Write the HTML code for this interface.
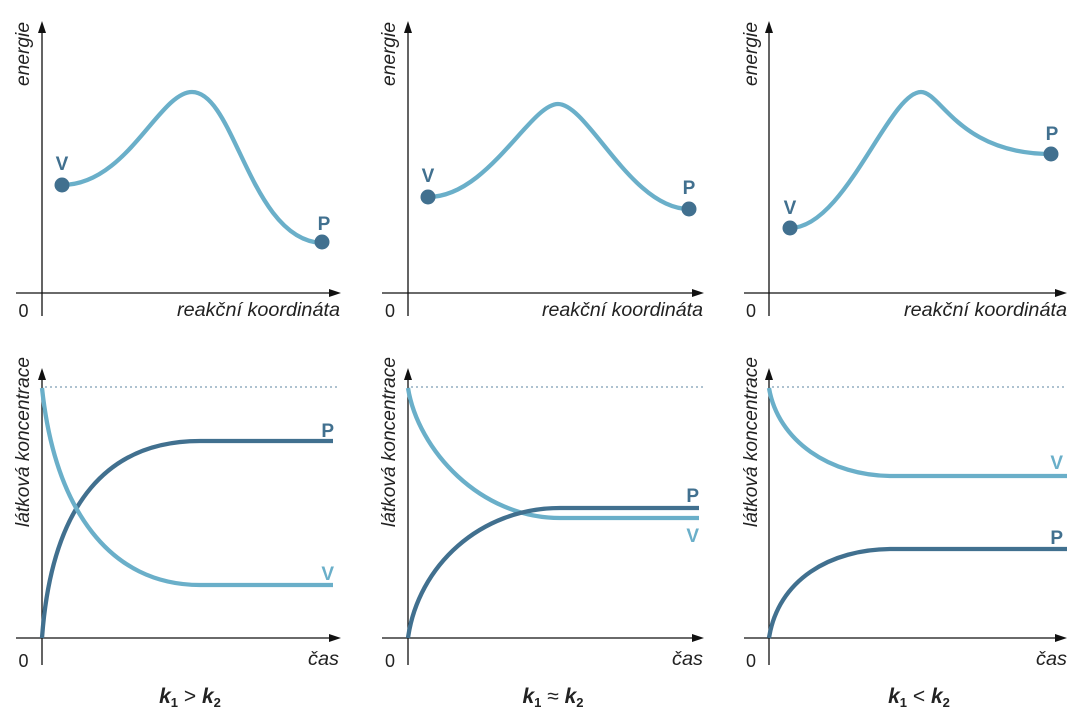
<!DOCTYPE html>
<html><head><meta charset="utf-8"><style>
html,body{margin:0;padding:0;background:#fff;}
svg{display:block;}
text{font-family:"Liberation Sans",sans-serif;fill:#222;}
.it{font-style:italic;font-size:19px;}
.lab{font-weight:bold;font-size:19px;}
.ax{stroke:#111;stroke-width:1.3;fill:none;}
.ah{fill:#111;}
.lb{stroke:#6aafc9;stroke-width:4.3;fill:none;stroke-linecap:round;}
.db{stroke:#41708f;stroke-width:4.3;fill:none;stroke-linecap:butt;}
.lbb{stroke:#6aafc9;stroke-width:4.3;fill:none;stroke-linecap:butt;}
.dot{stroke:#7d9db3;stroke-width:1.2;stroke-dasharray:2 3;fill:none;}
.k{font-size:21px;font-weight:bold;font-style:italic;fill:#222;}
</style></head><body>
<svg width="1079" height="718" viewBox="0 0 1079 718" xmlns="http://www.w3.org/2000/svg">

<!-- ========== PANEL 1 TOP ========== -->
<line class="ax" x1="42" y1="30" x2="42" y2="316"/>
<polygon class="ah" points="42,21 38,33 46,33"/>
<line class="ax" x1="16" y1="293" x2="332" y2="293"/>
<polygon class="ah" points="341,293 329,289 329,297"/>
<text class="it" transform="translate(29,86) rotate(-90)" textLength="64" lengthAdjust="spacingAndGlyphs">energie</text>
<text x="23.5" y="317" font-size="18" text-anchor="middle">0</text>
<text class="it" x="340" y="316" text-anchor="end" textLength="163" lengthAdjust="spacingAndGlyphs">reakční koordináta</text>
<path class="lb" d="M62,185 C127,185 159,92 192,92 C235,92 250,240 322,243"/>
<circle cx="62" cy="185" r="7.5" fill="#41708f"/>
<circle cx="322" cy="242" r="7.5" fill="#41708f"/>
<text class="lab" x="62" y="170" text-anchor="middle" style="fill:#41708f">V</text>
<text class="lab" x="324" y="230" text-anchor="middle" style="fill:#41708f">P</text>

<!-- ========== PANEL 2 TOP ========== -->
<line class="ax" x1="408" y1="30" x2="408" y2="316"/>
<polygon class="ah" points="408,21 404,33 412,33"/>
<line class="ax" x1="382" y1="293" x2="695" y2="293"/>
<polygon class="ah" points="704,293 692,289 692,297"/>
<text class="it" transform="translate(395,86) rotate(-90)" textLength="64" lengthAdjust="spacingAndGlyphs">energie</text>
<text x="390" y="317" font-size="18" text-anchor="middle">0</text>
<text class="it" x="703" y="316" text-anchor="end" textLength="161" lengthAdjust="spacingAndGlyphs">reakční koordináta</text>
<path class="lb" d="M428,197 C488,197 530,104 558,104 C588,104 631,209 689,209"/>
<circle cx="428" cy="197" r="7.5" fill="#41708f"/>
<circle cx="689" cy="209" r="7.5" fill="#41708f"/>
<text class="lab" x="428" y="182" text-anchor="middle" style="fill:#41708f">V</text>
<text class="lab" x="689" y="194" text-anchor="middle" style="fill:#41708f">P</text>

<!-- ========== PANEL 3 TOP ========== -->
<line class="ax" x1="769" y1="30" x2="769" y2="316"/>
<polygon class="ah" points="769,21 765,33 773,33"/>
<line class="ax" x1="744" y1="293" x2="1058" y2="293"/>
<polygon class="ah" points="1067,293 1055,289 1055,297"/>
<text class="it" transform="translate(757,86) rotate(-90)" textLength="64" lengthAdjust="spacingAndGlyphs">energie</text>
<text x="751" y="317" font-size="18" text-anchor="middle">0</text>
<text class="it" x="1067" y="316" text-anchor="end" textLength="163" lengthAdjust="spacingAndGlyphs">reakční koordináta</text>
<path class="lb" d="M790,228 C845,228 889,92 921,92 C941,92 959,154 1051,154"/>
<circle cx="790" cy="228" r="7.5" fill="#41708f"/>
<circle cx="1051" cy="154" r="7.5" fill="#41708f"/>
<text class="lab" x="790" y="214" text-anchor="middle" style="fill:#41708f">V</text>
<text class="lab" x="1052" y="140" text-anchor="middle" style="fill:#41708f">P</text>

<!-- ========== PANEL 1 BOTTOM ========== -->
<line class="dot" x1="45" y1="387" x2="338" y2="387"/>
<line class="ax" x1="42" y1="377" x2="42" y2="665"/>
<polygon class="ah" points="42,368 38,380 46,380"/>
<line class="ax" x1="16" y1="638" x2="332" y2="638"/>
<polygon class="ah" points="341,638 329,634 329,642"/>
<text class="it" transform="translate(29,527) rotate(-90)" textLength="170" lengthAdjust="spacingAndGlyphs">látková koncentrace</text>
<text x="23.5" y="667" font-size="18" text-anchor="middle">0</text>
<text class="it" x="339" y="665" text-anchor="end" textLength="31" lengthAdjust="spacingAndGlyphs">čas</text>
<path class="db" d="M42,638 C52,500 110,441 200,441 L333,441"/>
<path class="lbb" d="M42,388 C55,510 110,585 200,585 L333,585"/>
<text class="lab" x="334" y="437" text-anchor="end" style="fill:#41708f">P</text>
<text class="lab" x="334" y="580" text-anchor="end" style="fill:#6aafc9">V</text>
<text class="k" x="190" y="703" text-anchor="middle">k<tspan font-size="13" font-style="normal" dy="4">1</tspan><tspan dy="-4" font-weight="normal" font-style="normal"> &gt; </tspan>k<tspan font-size="13" font-style="normal" dy="4">2</tspan></text>

<!-- ========== PANEL 2 BOTTOM ========== -->
<line class="dot" x1="411" y1="387" x2="703" y2="387"/>
<line class="ax" x1="408" y1="377" x2="408" y2="665"/>
<polygon class="ah" points="408,368 404,380 412,380"/>
<line class="ax" x1="382" y1="638" x2="695" y2="638"/>
<polygon class="ah" points="704,638 692,634 692,642"/>
<text class="it" transform="translate(395,527) rotate(-90)" textLength="170" lengthAdjust="spacingAndGlyphs">látková koncentrace</text>
<text x="390" y="667" font-size="18" text-anchor="middle">0</text>
<text class="it" x="703" y="665" text-anchor="end" textLength="31" lengthAdjust="spacingAndGlyphs">čas</text>
<path class="lbb" d="M408,388 C418,450 480,518 560,518 L699,518"/>
<path class="db" d="M408,638 C418,566 480,508 560,508 L699,508"/>
<text class="lab" x="699" y="502" text-anchor="end" style="fill:#41708f">P</text>
<text class="lab" x="699" y="542" text-anchor="end" style="fill:#6aafc9">V</text>
<text class="k" x="553" y="703" text-anchor="middle">k<tspan font-size="13" font-style="normal" dy="4">1</tspan><tspan dy="-4" font-weight="normal" font-style="normal"> ≈ </tspan>k<tspan font-size="13" font-style="normal" dy="4">2</tspan></text>

<!-- ========== PANEL 3 BOTTOM ========== -->
<line class="dot" x1="772" y1="387" x2="1066" y2="387"/>
<line class="ax" x1="769" y1="377" x2="769" y2="665"/>
<polygon class="ah" points="769,368 765,380 773,380"/>
<line class="ax" x1="744" y1="638" x2="1058" y2="638"/>
<polygon class="ah" points="1067,638 1055,634 1055,642"/>
<text class="it" transform="translate(757,527) rotate(-90)" textLength="170" lengthAdjust="spacingAndGlyphs">látková koncentrace</text>
<text x="751" y="667" font-size="18" text-anchor="middle">0</text>
<text class="it" x="1067" y="665" text-anchor="end" textLength="31" lengthAdjust="spacingAndGlyphs">čas</text>
<path class="lbb" d="M769,388 C778,441 830,476 892,476 L1067,476"/>
<path class="db" d="M769,638 C778,580 830,549 892,549 L1067,549"/>
<text class="lab" x="1063" y="469" text-anchor="end" style="fill:#6aafc9">V</text>
<text class="lab" x="1063" y="544" text-anchor="end" style="fill:#41708f">P</text>
<text class="k" x="919" y="703" text-anchor="middle">k<tspan font-size="13" font-style="normal" dy="4">1</tspan><tspan dy="-4" font-weight="normal" font-style="normal"> &lt; </tspan>k<tspan font-size="13" font-style="normal" dy="4">2</tspan></text>

</svg>
</body></html>
